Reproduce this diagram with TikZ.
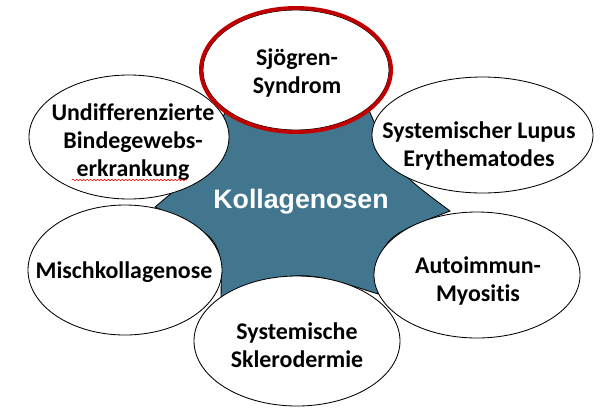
\documentclass[tikz,border=0pt]{standalone}
\usepackage{fontspec}
\setmainfont[Ligatures=NoCommon]{Carlito}
\newfontfamily\arialb{Liberation Sans}
\usetikzlibrary{decorations.pathmorphing}
\definecolor{starteal}{RGB}{65,118,142}
\definecolor{ringred}{RGB}{192,0,0}
\begin{document}
\begin{tikzpicture}[x=0.025cm,y=-0.025cm,
  bubble/.style={draw=black,fill=white,line width=0.6pt},
  btext/.style={align=center,inner sep=0pt,font=\bfseries\fontsize{17}{19.8}\selectfont},
  startext/.style={text=white,inner sep=0pt,font=\arialb\bfseries\fontsize{19}{22}\selectfont}]
\useasboundingbox (0,0) rectangle (600,410);
% star
\coordinate (t1) at (155,207);
\coordinate (t6) at (225,112);
\coordinate (t5) at (368,108);
\coordinate (t4) at (450,211);
\coordinate (t3) at (378,294);
\coordinate (t2) at (221,298);
\draw[fill=starteal,line width=0.6pt] (t1) .. controls (205,165) .. (t6)
  .. controls (296,125) .. (t5) .. controls (395,170) .. (t4)
  .. controls (380,238) .. (t3) .. controls (300,269) .. (t2)
  .. controls (222,238) .. (t1) -- cycle;
\node[startext] (koll) at (301,202) {Kollagenosen};
% bubbles
\path[bubble] (125,270) ellipse [x radius=97,y radius=65];
\path[bubble] (297,341) ellipse [x radius=103,y radius=65];
\path[bubble] (477,275) ellipse [x radius=103,y radius=63];
\path[bubble] (482.5,135) ellipse [x radius=110.5,y radius=58];
\path[bubble] (129,137) ellipse [x radius=100,y radius=62];
\path[bubble] (296,70) ellipse [x radius=93,y radius=60];
\draw[ringred,line width=2.8pt] (296,70) ellipse [x radius=95,y radius=62];
% texts
\node[btext] (sjo) at (297,73) {Sjögren-\\Syndrom};
\node[btext] (und) at (133,142) {Undifferenzierte\\Bindegewebs-\\erkrankung};
\node[btext] (sle) at (479,146) {Systemischer Lupus\\Erythematodes};
\node[btext] (mis) at (124,272) {Mischkollagenose};
\node[btext] (aim) at (478,281) {Autoimmun-\\Myositis};
\node[btext] (ssc) at (297,345) {Systemische\\Sklerodermie};
\coordinate (sq1) at (72,180);
\coordinate (sq2) at (187,180);
\draw[red,line width=0.4pt,decorate,decoration={snake,amplitude=0.6pt,segment length=2.5pt}]
  (sq1) -- (sq2);
\end{tikzpicture}
\end{document}
